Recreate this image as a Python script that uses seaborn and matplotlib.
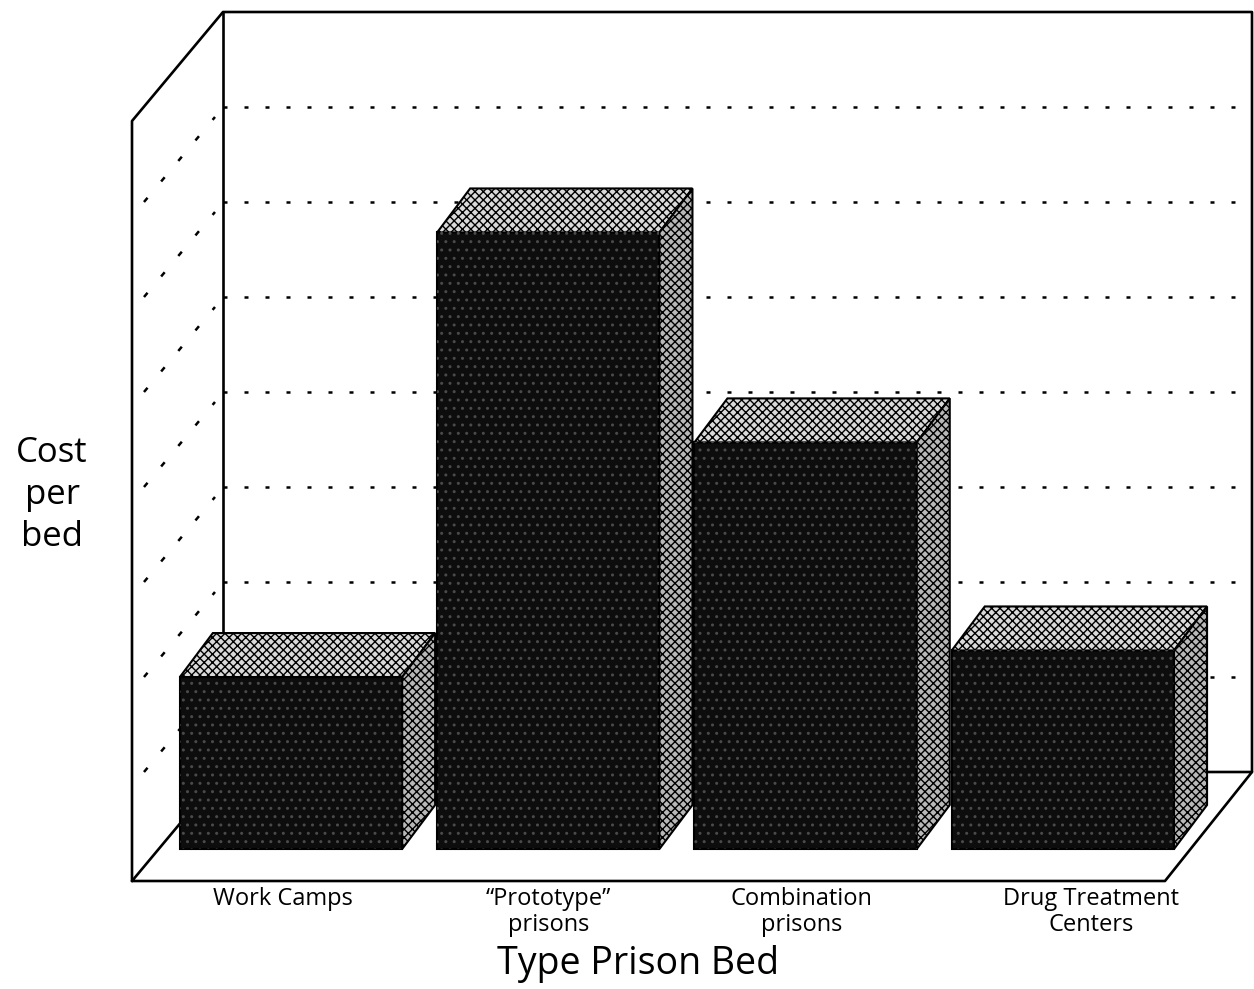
import matplotlib
matplotlib.use("Agg")
import matplotlib.pyplot as plt
from matplotlib.patches import Polygon
from matplotlib.transforms import ScaledTranslation
import seaborn as sns

# front-face heights of the bars, in grid steps
categories = ["Work Camps", "\u201cPrototype\u201d\nprisons", "Combination\nprisons", "Drug Treatment\nCenters"]
cost_per_bed = [1.81, 6.49, 4.28, 2.09]
grid_levels = [1, 2, 3, 4, 5, 6, 7]

sns.set_style("white")
plt.rcParams["font.family"] = ["Open Sans", "DejaVu Sans"]
plt.rcParams["text.color"] = "black"
plt.rcParams["axes.labelcolor"] = "black"
plt.rcParams["xtick.color"] = "black"

# pixel -> data scale of the drawing
X0, SX = 291.0, 257.3
Y0, SY = 849.0, 95.0

def dx(px):
    return px / SX

def dy(px):
    return px / SY

fig = plt.figure(figsize=(12.54, 9.89), dpi=100)
ax = fig.add_axes([132 / 1254, (989 - 881) / 989, 1120 / 1254, 869 / 989])

sns.barplot(x=categories, y=cost_per_bed, color="black", saturation=1,
            width=0.864, ax=ax, zorder=3)

xmin, xmax = (132 - X0) / SX, (1252 - X0) / SX
ymin, ymax = (Y0 - 881) / SY, (Y0 - 12) / SY
ax.set_xlim(xmin, xmax)
ax.set_ylim(ymin, ymax)

# box: floor, left wall, back wall
wall_dx, wall_dy = dx(91), dy(109)
floor_y = ymin
front_left = xmin
back_left = xmin + wall_dx
back_base = floor_y + wall_dy
floor_right = (1165 - X0) / SX
left_top = ymax - wall_dy

frame = dict(color="black", lw=1.9, clip_on=False, zorder=1, solid_capstyle="round")
ax.plot([front_left, floor_right, xmax, back_left, front_left],
        [floor_y, floor_y, back_base, back_base, floor_y], **frame)
ax.plot([front_left, front_left, back_left, xmax, xmax],
        [floor_y, left_top, ymax, ymax, back_base], **frame)
ax.plot([back_left, back_left], [back_base, ymax], **frame)

dots = dict(color="black", lw=1.8, ls=(0, (1.6, 6.8)), zorder=1, clip_on=False)
for k in grid_levels:
    ax.plot([back_left, xmax], [back_base + k, back_base + k], **dots)
    ax.plot([front_left + dx(12), back_left - dx(8)],
            [floor_y + k + dy(14), back_base + k - dy(10)],
            color="black", lw=1.8, ls=(0, (2.2, 8.5)), zorder=1)

# 3-d faces on the seaborn bars
bdx, bdy = dx(33), dy(44)
for bar in ax.patches[:len(cost_per_bed)]:
    x0 = bar.get_x()
    x1 = x0 + bar.get_width()
    h = bar.get_height()
    bar.set_edgecolor("black")
    bar.set_linewidth(1.5)
    bar.set_facecolor("#0d0d0d")
    ax.add_patch(Polygon([(x0, 0), (x1, 0), (x1, h), (x0, h)], closed=True,
                         fill=False, hatch="..", edgecolor="#4a4a4a", lw=0, zorder=3.5))
    top = [(x0, h), (x1, h), (x1 + bdx, h + bdy), (x0 + bdx, h + bdy)]
    ax.add_patch(Polygon(top, closed=True, facecolor="#dadada", hatch="xxxx",
                         edgecolor="black", lw=1.5, zorder=3))
    side = [(x1, 0), (x1 + bdx, bdy), (x1 + bdx, h + bdy), (x1, h)]
    ax.add_patch(Polygon(side, closed=True, facecolor="#b8b8b8", hatch="xxxx",
                         edgecolor="black", lw=1.5, zorder=3))

ax.set_yticks([])
ax.tick_params(axis="x", length=0, pad=4, labelsize=17)
sns.despine(ax=ax, left=True, bottom=True)
shifts = [-8, 0, -4, 28]
for lab, s in zip(ax.get_xticklabels(), shifts):
    lab.set_linespacing(1.15)
    lab.set_transform(lab.get_transform() + ScaledTranslation(s / 100, 0, fig.dpi_scale_trans))

ax.set_xlabel("Type Prison Bed", fontsize=27)
ax.xaxis.set_label_coords((638 - 132) / 1120, -0.074)
ax.set_ylabel("Cost\nper\nbed", fontsize=25, rotation=0, ha="center", va="center",
              linespacing=1.3)
ax.yaxis.set_label_coords((52 - 132) / 1120, (881 - 495) / 869)

fig.savefig("out.png", dpi=100)
